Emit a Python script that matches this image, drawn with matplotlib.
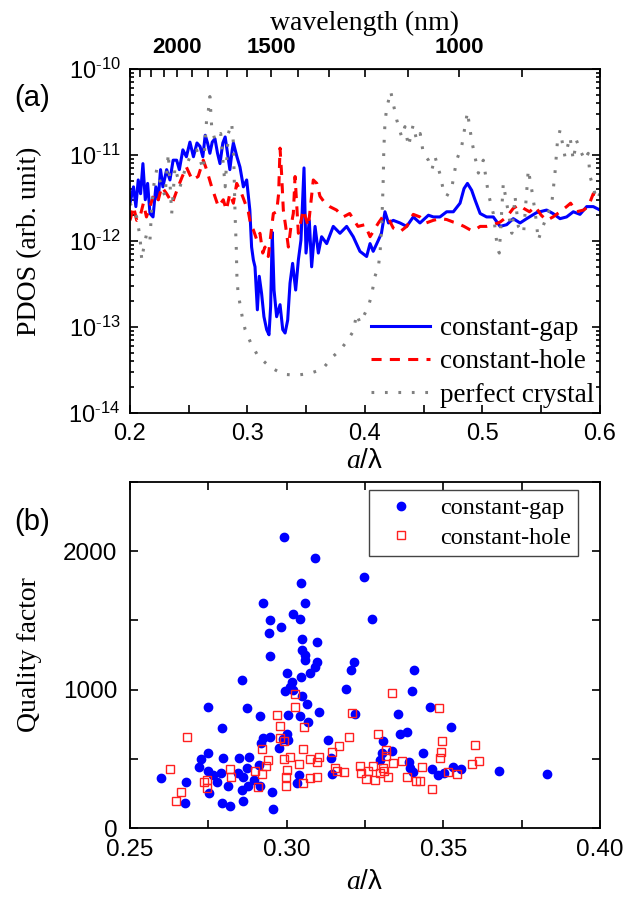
import numpy as np
import matplotlib
matplotlib.use('Agg')
import matplotlib.pyplot as plt
from matplotlib.ticker import (FixedLocator, FixedFormatter, MultipleLocator,
                               LogLocator, NullFormatter, FormatStrFormatter)

plt.rcParams['font.family'] = 'Liberation Sans'
plt.rcParams['axes.unicode_minus'] = False
plt.rcParams['mathtext.fontset'] = 'custom'
plt.rcParams['mathtext.rm'] = 'Liberation Serif'
plt.rcParams['mathtext.it'] = 'Liberation Serif:italic'

SERIF = 'Liberation Serif'
LATTICE = 480.0  # nm, lattice constant a

# ---------------------------------------------------------------- panel (a)
gap_x = [0.200, 0.203, 0.205, 0.207, 0.209, 0.211, 0.213, 0.215, 0.217, 0.2196,
         0.222, 0.224, 0.226, 0.228, 0.2312, 0.234, 0.2367, 0.2397, 0.242, 0.245,
         0.248, 0.251, 0.254, 0.257, 0.2596, 0.262, 0.264, 0.266, 0.268, 0.270,
         0.2723, 0.2745, 0.2766, 0.279, 0.281, 0.283, 0.285, 0.287, 0.288, 0.291,
         0.2936, 0.2965, 0.2993, 0.302, 0.3035, 0.305, 0.3064, 0.3084, 0.310, 0.312,
         0.314, 0.3163, 0.3183, 0.3197, 0.3211, 0.3226, 0.3248, 0.3277, 0.330, 0.332,
         0.3342, 0.3362, 0.3384, 0.341, 0.3433, 0.3455, 0.3481, 0.3498, 0.3526, 0.3546,
         0.3575, 0.3603, 0.3631, 0.3674, 0.373, 0.3787, 0.3844, 0.390, 0.3957, 0.4014,
         0.4043, 0.407, 0.4114, 0.414, 0.417, 0.420, 0.4241, 0.4298, 0.4355, 0.4411,
         0.4468, 0.454, 0.4582, 0.4638, 0.4695, 0.4752, 0.4809, 0.4843, 0.4872, 0.4908,
         0.4936, 0.498, 0.5035, 0.5092, 0.515, 0.5206, 0.5262, 0.532, 0.5376, 0.546,
         0.5546, 0.560, 0.566, 0.5716, 0.5773, 0.583, 0.5887, 0.5943, 0.600]
gap_log = [-11.56, -11.37, -11.60, -11.29, -11.45, -11.10, -11.52, -11.33, -11.68, -11.72,
           -11.37, -11.52, -11.17, -11.37, -11.17, -11.29, -11.06, -11.06, -11.17, -10.94,
           -11.02, -10.85, -11.02, -10.86, -10.90, -11.02, -10.77, -10.86, -10.98, -10.85,
           -10.81, -10.98, -11.10, -10.86, -10.79, -10.98, -11.17, -10.94, -10.86, -11.02,
           -11.14, -11.37, -11.29, -11.64, -12.07, -12.22, -12.30, -12.80, -12.41, -12.61,
           -12.88, -13.03, -13.09, -12.76, -11.90, -12.57, -12.88, -12.74, -13.03, -13.07,
           -12.92, -12.49, -12.26, -12.57, -12.22, -11.99, -11.15, -12.14, -11.76, -12.30,
           -11.83, -12.14, -11.95, -12.03, -11.83, -11.91, -11.83, -11.95, -12.12, -12.18,
           -12.03, -12.12, -11.99, -11.91, -11.66, -11.79, -11.76, -11.79, -11.83, -11.72,
           -11.79, -11.70, -11.72, -11.72, -11.66, -11.66, -11.56, -11.39, -11.33, -11.41,
           -11.52, -11.68, -11.72, -11.72, -11.83, -11.81, -11.74, -11.79, -11.74, -11.67,
           -11.64, -11.68, -11.74, -11.72, -11.66, -11.69, -11.60, -11.60, -11.64]

hole_x = [0.200, 0.203, 0.2057, 0.2085, 0.2114, 0.214, 0.217, 0.2205, 0.2241, 0.227,
          0.2312, 0.236, 0.241, 0.2445, 0.248, 0.253, 0.258, 0.2624, 0.2652, 0.2695,
          0.2752, 0.2794, 0.282, 0.285, 0.288, 0.2908, 0.295, 0.298, 0.3007, 0.303,
          0.305, 0.308, 0.3106, 0.313, 0.3149, 0.3177, 0.320, 0.322, 0.3248, 0.3265,
          0.3277, 0.329, 0.3305, 0.3325, 0.3348, 0.337, 0.339, 0.3405, 0.3433, 0.3475,
          0.3518, 0.356, 0.359, 0.3617, 0.366, 0.370, 0.3758, 0.3815, 0.387, 0.394,
          0.400, 0.4043, 0.4114, 0.415, 0.420, 0.4241, 0.430, 0.4355, 0.4411, 0.4468,
          0.452, 0.458, 0.464, 0.4695, 0.4752, 0.478, 0.4843, 0.4908, 0.4936, 0.498,
          0.5035, 0.5092, 0.515, 0.5206, 0.5262, 0.531, 0.535, 0.540, 0.545, 0.550,
          0.5546, 0.560, 0.566, 0.5716, 0.575, 0.580, 0.586, 0.590, 0.5943, 0.600]
hole_log = [-11.76, -11.60, -11.76, -11.72, -11.56, -11.72, -11.60, -11.45, -11.52, -11.37,
            -11.45, -11.56, -11.37, -11.25, -11.14, -11.29, -11.25, -11.06, -11.17, -11.37,
            -11.60, -11.52, -11.64, -11.45, -11.56, -11.33, -11.45, -11.56, -11.66, -11.83,
            -11.87, -11.99, -11.91, -12.14, -12.07, -12.18, -11.91, -11.68, -11.66, -11.45,
            -10.92, -11.21, -11.64, -11.83, -12.07, -11.83, -11.68, -11.25, -11.91, -11.64,
            -11.83, -11.29, -11.33, -11.48, -11.56, -11.60, -11.64, -11.72, -11.68, -11.83,
            -11.81, -11.95, -11.79, -11.72, -11.74, -11.85, -11.89, -11.83, -11.69, -11.72,
            -11.79, -11.76, -11.74, -11.75, -11.78, -11.79, -11.83, -11.88, -11.87, -11.83,
            -11.83, -11.81, -11.78, -11.72, -11.62, -11.58, -11.62, -11.66, -11.60, -11.70,
            -11.76, -11.72, -11.66, -11.60, -11.56, -11.66, -11.64, -11.60, -11.45, -11.48]

crystal_x = [0.200, 0.2057, 0.2085, 0.210, 0.2114, 0.2142, 0.217, 0.2185, 0.220, 0.2227,
             0.227, 0.2298, 0.2326, 0.2355, 0.2383, 0.2426, 0.2468, 0.251, 0.2567, 0.2624,
             0.2652, 0.2667, 0.268, 0.2695, 0.2723, 0.2772, 0.281, 0.2837, 0.2865, 0.288,
             0.2894, 0.2905, 0.291, 0.2918, 0.2932, 0.2955, 0.298, 0.3026, 0.309, 0.3197,
             0.3305, 0.3418, 0.353, 0.3637, 0.373, 0.3787, 0.3844, 0.390, 0.3929, 0.3957,
             0.3986, 0.4029, 0.4056, 0.4085, 0.4114, 0.4128, 0.4142, 0.415, 0.4156, 0.416,
             0.417, 0.4184, 0.4219, 0.424, 0.427, 0.4312, 0.434, 0.437, 0.441, 0.444,
             0.447, 0.4496, 0.454, 0.457, 0.4596, 0.464, 0.4667, 0.4695, 0.474, 0.478,
             0.4823, 0.4851, 0.4872, 0.4908, 0.4936, 0.4965, 0.5007, 0.505, 0.5092, 0.5126,
             0.5143, 0.5177, 0.5206, 0.525, 0.5277, 0.5305, 0.535, 0.539, 0.542, 0.545,
             0.5475, 0.5503, 0.5546, 0.559, 0.5617, 0.5637, 0.566, 0.5702, 0.5745, 0.5773,
             0.580, 0.583, 0.5872, 0.590, 0.5915, 0.5943, 0.597, 0.600]
crystal_log = [-11.56, -11.72, -11.95, -12.22, -12.10, -11.91, -11.99, -11.60, -11.37, -11.17,
               -11.37, -11.48, -10.98, -11.68, -11.14, -11.37, -11.17, -11.02, -10.94, -11.17,
               -10.59, -10.48, -10.32, -10.67, -10.83, -10.75, -11.37, -10.75, -10.63, -10.86,
               -11.68, -12.10, -12.41, -12.57, -12.70, -12.88, -13.03, -13.18, -13.34, -13.47,
               -13.55, -13.56, -13.54, -13.49, -13.34, -13.27, -13.17, -13.05, -12.85, -12.95,
               -12.88, -12.76, -12.63, -12.41, -12.30, -12.14, -11.83, -11.52, -11.25, -10.94,
               -10.63, -10.46, -10.26, -10.40, -10.59, -10.79, -10.67, -10.90, -10.65, -10.83,
               -10.75, -10.98, -11.06, -11.17, -11.02, -11.23, -11.41, -11.48, -11.37, -11.06,
               -10.90, -10.67, -10.50, -10.83, -11.02, -11.21, -11.06, -11.45, -11.68, -12.07,
               -12.14, -11.33, -11.56, -11.91, -11.48, -11.83, -11.91, -11.17, -11.41, -11.68,
               -11.99, -11.87, -11.72, -11.56, -11.21, -10.86, -10.71, -11.02, -10.79, -11.06,
               -10.83, -10.94, -11.06, -10.98, -11.25, -11.37, -11.52, -11.45]

pdos_ticks = [1e-14, 1e-13, 1e-12, 1e-11, 1e-10]
pdos_labels = ['$\\mathdefault{10^{\\text{-}14}}$', '$\\mathdefault{10^{\\text{-}13}}$',
               '$\\mathdefault{10^{\\text{-}12}}$', '$\\mathdefault{10^{\\text{-}11}}$',
               '$\\mathdefault{10^{\\text{-}10}}$']
wl_major = [2000, 1500, 1000]
wl_minor = list(range(800, 2500, 100))

# ---------------------------------------------------------------- panel (b)
q_gap_x = [0.2993, 0.309, 0.3046, 0.2923, 0.306, 0.2947, 0.302, 0.3043, 0.2983, 0.2945,
           0.3049, 0.3096, 0.3049, 0.2947, 0.306, 0.306, 0.3216, 0.3247, 0.3272, 0.3096,
           0.3092, 0.3074, 0.3002, 0.3046, 0.3016, 0.3011, 0.2995, 0.3021, 0.2856, 0.3048,
           0.3064, 0.3069, 0.3103, 0.3043, 0.3003, 0.2915, 0.2873, 0.275, 0.2794, 0.3188,
           0.3204, 0.3217, 0.3354, 0.3362, 0.3383, 0.2947, 0.2923, 0.2917, 0.3002, 0.2987,
           0.3003, 0.2976, 0.3131, 0.3309, 0.3337, 0.3298, 0.3303, 0.3142, 0.3144, 0.304,
           0.3032, 0.2953, 0.2955, 0.288, 0.2849, 0.2873, 0.2913, 0.2798, 0.275, 0.2727,
           0.272, 0.275, 0.2766, 0.2779, 0.279, 0.2812, 0.2846, 0.286, 0.2857, 0.2862,
           0.2878, 0.2897, 0.2915, 0.2794, 0.2819, 0.2752, 0.2679, 0.2675, 0.2599, 0.3406,
           0.3399, 0.3459, 0.3525, 0.3436, 0.3391, 0.3394, 0.3402, 0.3463, 0.3484, 0.3503,
           0.353, 0.3556, 0.3677, 0.3831]
q_gap = [2105, 1951, 1768, 1623, 1623, 1503, 1544, 1508, 1455, 1407,
         1365, 1342, 1284, 1245, 1250, 1214, 1197, 1813, 1510, 1202,
         1166, 1118, 1118, 1089, 1057, 1021, 992, 997, 1069, 954,
         896, 768, 840, 811, 816, 807, 865, 872, 720, 1004,
         1142, 824, 824, 677, 692, 660, 648, 617, 677, 641,
         636, 580, 636, 626, 556, 491, 540, 503, 388, 383,
         323, 258, 137, 511, 503, 436, 455, 508, 540, 496,
         438, 414, 383, 335, 400, 306, 395, 366, 275, 197,
         306, 347, 306, 178, 161, 251, 330, 178, 363, 1142,
         990, 872, 728, 540, 479, 431, 407, 426, 383, 395,
         443, 424, 414, 392]

q_hole_x = [0.2628, 0.2681, 0.2662, 0.2646, 0.2747, 0.2737, 0.2747, 0.2819, 0.2821, 0.2899,
            0.2909, 0.2922, 0.2922, 0.2934, 0.294, 0.297, 0.2979, 0.2979, 0.2993, 0.299,
            0.3011, 0.3002, 0.2999, 0.2998, 0.3027, 0.3027, 0.304, 0.3051, 0.3056, 0.3051,
            0.3074, 0.3074, 0.3098, 0.3103, 0.3098, 0.3144, 0.3167, 0.3199, 0.3208, 0.3154,
            0.3162, 0.3183, 0.3234, 0.3236, 0.3252, 0.3277, 0.329, 0.3283, 0.3298, 0.3309,
            0.3316, 0.3317, 0.3324, 0.3335, 0.334, 0.3487, 0.3495, 0.3494, 0.3489, 0.3602,
            0.3613, 0.3591, 0.3369, 0.3311, 0.3259, 0.3385, 0.3413, 0.3425, 0.3431, 0.3463,
            0.3514, 0.3545]
q_hole = [426, 660, 258, 197, 347, 330, 291, 426, 371, 414,
          294, 388, 571, 450, 491, 814, 737, 648, 629, 499,
          511, 419, 371, 306, 968, 872, 460, 569, 732, 327,
          499, 363, 479, 515, 371, 551, 592, 655, 829, 431,
          412, 407, 448, 395, 352, 448, 677, 347, 395, 431,
          564, 522, 371, 973, 470, 867, 631, 547, 503, 600,
          486, 460, 486, 412, 414, 371, 340, 340, 439, 282,
          407, 388]

# -----------------------------------------------------------------------------

fig = plt.figure(figsize=(6.41, 9.01), dpi=100)
ax1 = fig.add_axes([0.2028, 0.5416, 0.7332, 0.3818])
ax2 = fig.add_axes([0.2028, 0.0810, 0.7332, 0.3840])

ax1.plot(gap_x, 10.0 ** np.array(gap_log), color='#0000ff', lw=2.2,
         label='constant-gap')
ax1.plot(hole_x, 10.0 ** np.array(hole_log), color='#ff0000', lw=2.2,
         dashes=(3.3, 2.7), label='constant-hole')
ax1.plot(crystal_x, 10.0 ** np.array(crystal_log), color='#808080', lw=2.2,
         dashes=(0.9, 3.5), label='perfect crystal')

ax1.set_yscale('log')
ax1.set_xlim(0.2, 0.6)
ax1.set_ylim(1e-14, 1e-10)
ax1.xaxis.set_major_locator(MultipleLocator(0.1))
ax1.xaxis.set_minor_locator(MultipleLocator(0.05))
ax1.yaxis.set_major_locator(FixedLocator(pdos_ticks))
ax1.yaxis.set_major_formatter(FixedFormatter(pdos_labels))
ax1.yaxis.set_minor_locator(LogLocator(base=10, subs=np.arange(2, 10), numticks=10))
ax1.yaxis.set_minor_formatter(NullFormatter())
ax1.tick_params(which='both', direction='in', top=False, right=True,
                labelsize=17, width=1.2)
ax1.tick_params(which='major', length=6)
ax1.tick_params(which='minor', length=3)
ax1.tick_params(axis='x', which='both', length=6, pad=7)
ax1.tick_params(axis='y', which='major', pad=7)
ax1.set_xlabel('$a$/λ', fontsize=20, labelpad=2)
ax1.set_ylabel('PDOS (arb. unit)', family=SERIF, fontsize=20)
ax1.yaxis.set_label_coords(-0.187, 0.5)

top = ax1.secondary_xaxis('top', functions=(lambda x: LATTICE / x,
                                             lambda w: LATTICE / w))
top.xaxis.set_major_locator(FixedLocator(wl_major))
top.xaxis.set_minor_locator(FixedLocator(wl_minor))
top.tick_params(which='both', direction='in', length=6, width=1.2, labelsize=16,
                pad=8)
for lab in top.get_xticklabels():
    lab.set_fontweight('bold')
top.set_xlabel('wavelength (nm)', family=SERIF, fontsize=20, labelpad=5)

ax1.legend(loc='lower right', bbox_to_anchor=(1.0, 0.0), frameon=False,
           prop={'family': SERIF, 'size': 19.5}, handlelength=2.2,
           handletextpad=0.37, labelspacing=0.3, borderaxespad=0.0, borderpad=0.2)

# ---------------------------------------------------------------- panel (b)
ax2.plot(q_gap_x, q_gap, 'o', color='#0000ff', ms=6, mec='#0000ff',
         label='constant-gap')
ax2.plot(q_hole_x, q_hole, 's', mfc='none', mec='#ff2020', ms=5.5, mew=1.0,
         label='constant-hole')
ax2.set_xlim(0.25, 0.40)
ax2.set_ylim(0, 2500)
ax2.xaxis.set_major_locator(MultipleLocator(0.05))
ax2.xaxis.set_minor_locator(MultipleLocator(0.025))
ax2.yaxis.set_major_locator(MultipleLocator(1000))
ax2.yaxis.set_minor_locator(MultipleLocator(500))
ax2.xaxis.set_major_formatter(FormatStrFormatter('%.2f'))
ax2.tick_params(which='both', direction='in', top=True, right=True,
                labelsize=17.5, width=1.2, length=6)
ax2.tick_params(axis='x', which='major', pad=8)
ax2.tick_params(axis='y', which='major', pad=9)
ax2.set_xlabel('$a$/λ', fontsize=20, labelpad=6)
ax2.set_ylabel('Quality factor', family=SERIF, fontsize=20)
ax2.yaxis.set_label_coords(-0.187, 0.5)

leg2 = ax2.legend(loc='upper right', bbox_to_anchor=(0.953, 0.977),
                  prop={'family': SERIF, 'size': 17.5},
                  fancybox=False, edgecolor='#444444', framealpha=1,
                  handlelength=2.0, handletextpad=0.6, borderpad=0.3,
                  labelspacing=0.3, borderaxespad=0.0)
leg2.get_frame().set_linewidth(1.0)

for ax in (ax1, ax2):
    for sp in ax.spines.values():
        sp.set_linewidth(1.3)

fig.text(0.023, 0.882, '(a)', fontsize=21)
fig.text(0.023, 0.412, '(b)', fontsize=21)

fig.savefig('out.png', dpi=100)
